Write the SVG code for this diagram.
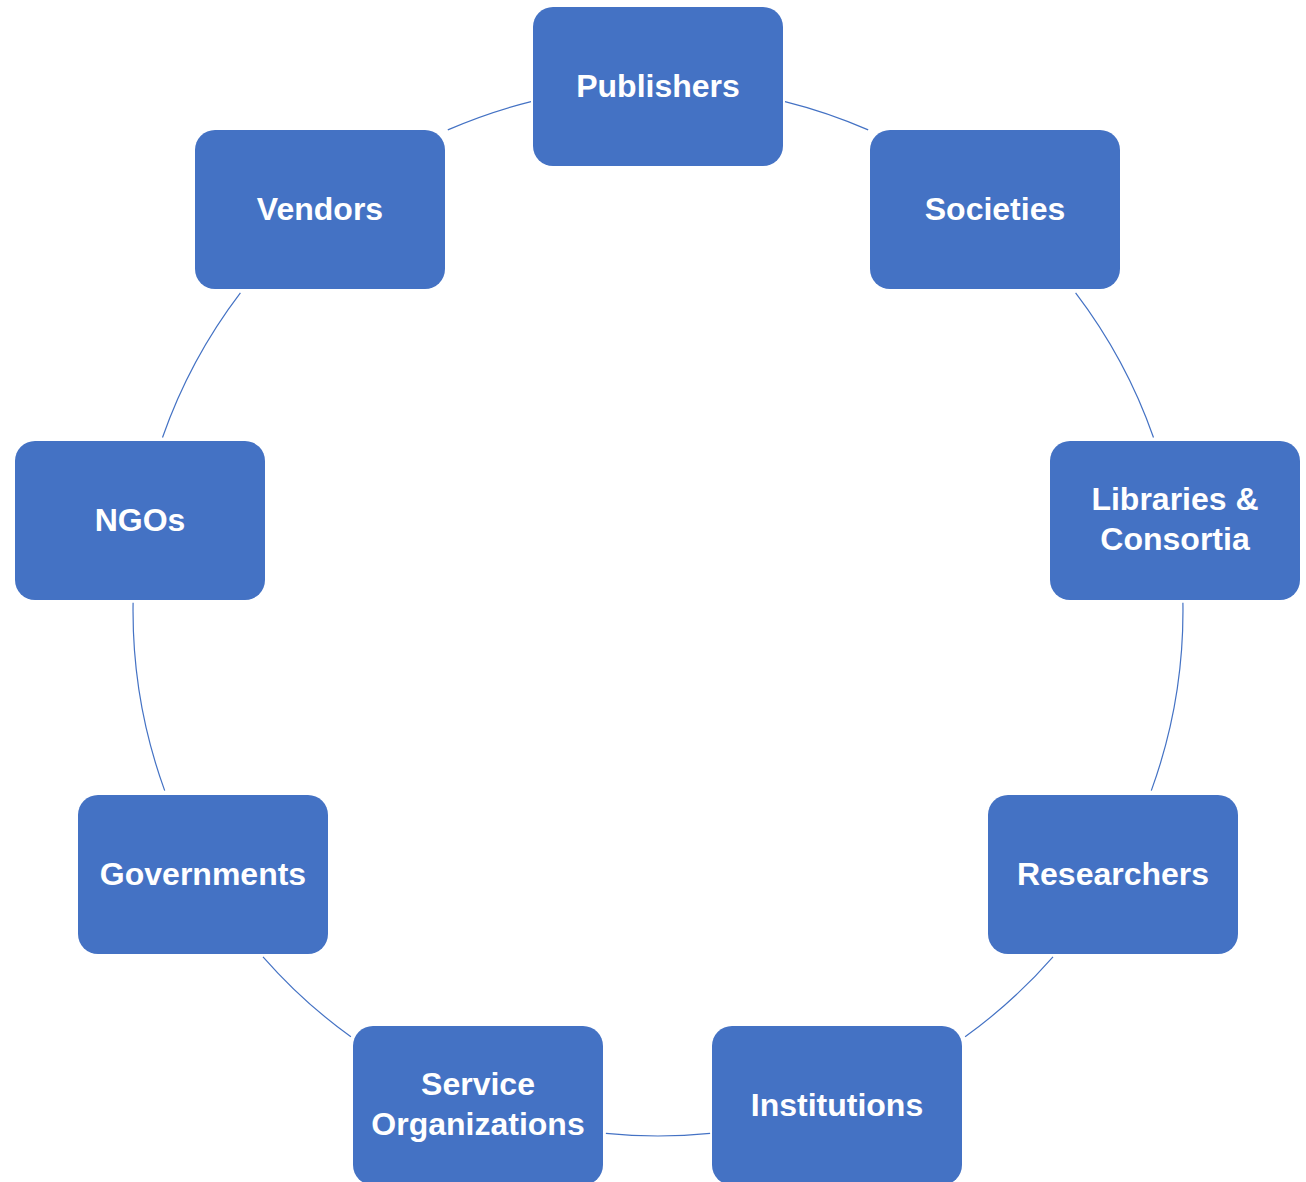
<svg xmlns="http://www.w3.org/2000/svg" width="1306" height="1182" viewBox="0 0 1306 1182">
<style>
.box{fill:#4472C4;}
.lbl{fill:#FFFFFF;font-family:"Liberation Sans",Arial,sans-serif;font-weight:bold;font-size:32px;text-anchor:middle;}
.arc{fill:none;stroke:#4472C4;stroke-width:1.2;}
</style>
<rect width="1306" height="1182" fill="#FFFFFF"/>
<g id="connectors">
<path class="arc" d="M785.0,101.6 A525,525 0 0 1 868.2,129.9"/>
<path class="arc" d="M1075.6,292.9 A525,525 0 0 1 1153.5,437.5"/>
<path class="arc" d="M1182.9,602.8 A525,525 0 0 1 1151.3,790.6"/>
<path class="arc" d="M1053.0,956.8 A525,525 0 0 1 965.1,1036.8"/>
<path class="arc" d="M710.1,1133.4 A525,525 0 0 1 605.9,1133.4"/>
<path class="arc" d="M350.9,1036.8 A525,525 0 0 1 263.0,956.8"/>
<path class="arc" d="M164.7,790.6 A525,525 0 0 1 133.1,602.8"/>
<path class="arc" d="M162.5,437.5 A525,525 0 0 1 240.4,292.9"/>
<path class="arc" d="M447.8,129.9 A525,525 0 0 1 531.0,101.6"/>
</g>
<g id="publishers"><rect class="box" x="533" y="7" width="250" height="159" rx="20"/><text class="lbl" x="658" y="97">Publishers</text></g>
<g id="societies"><rect class="box" x="870" y="130" width="250" height="159" rx="20"/><text class="lbl" x="995" y="220">Societies</text></g>
<g id="libraries"><rect class="box" x="1050" y="441" width="250" height="159" rx="20"/><text class="lbl" x="1175" y="510">Libraries &amp;</text><text class="lbl" x="1175" y="550">Consortia</text></g>
<g id="researchers"><rect class="box" x="988" y="795" width="250" height="159" rx="20"/><text class="lbl" x="1113" y="885">Researchers</text></g>
<g id="institutions"><rect class="box" x="712" y="1026" width="250" height="159" rx="20"/><text class="lbl" x="837" y="1116">Institutions</text></g>
<g id="service-organizations"><rect class="box" x="353" y="1026" width="250" height="159" rx="20"/><text class="lbl" x="478" y="1095">Service</text><text class="lbl" x="478" y="1135">Organizations</text></g>
<g id="governments"><rect class="box" x="78" y="795" width="250" height="159" rx="20"/><text class="lbl" x="203" y="885">Governments</text></g>
<g id="ngos"><rect class="box" x="15" y="441" width="250" height="159" rx="20"/><text class="lbl" x="140" y="531">NGOs</text></g>
<g id="vendors"><rect class="box" x="195" y="130" width="250" height="159" rx="20"/><text class="lbl" x="320" y="220">Vendors</text></g>
</svg>
